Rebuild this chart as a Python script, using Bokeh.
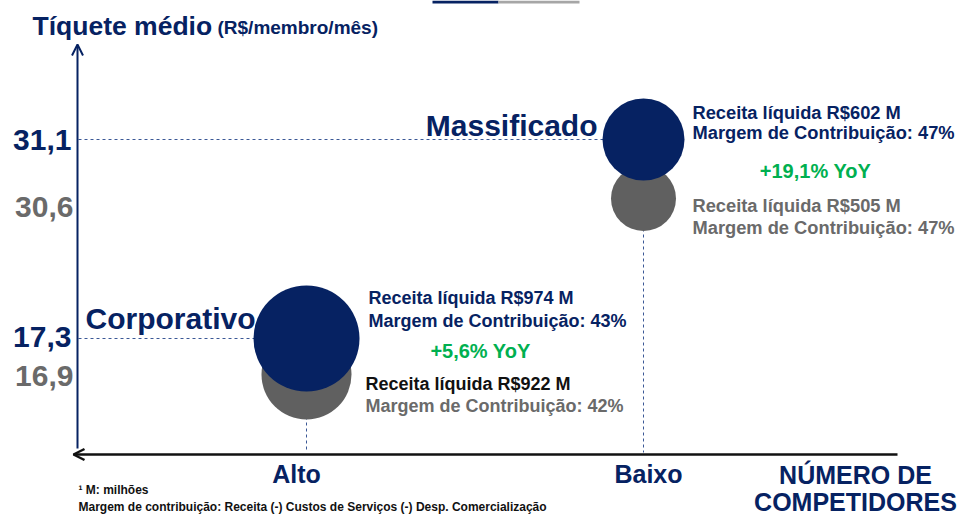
from bokeh.plotting import figure
from bokeh.models import Range1d, Arrow, OpenHead, Label, BoxAnnotation
from bokeh.core.properties import value
from bokeh.embed import file_html
from bokeh.resources import INLINE

# ---------------- data ----------------
segments = ["Massificado", "Corporativo"]
competitors = ["Baixo", "Alto"]          # número de competidores per segment
x_categories = ["Alto", "Baixo"]
ticket_now = [31.1, 17.3]                # tíquete médio (R$/membro/mês) atual
ticket_prev = [30.6, 16.9]               # ano anterior
revenue_now = [602, 974]                 # receita líquida R$ M
revenue_prev = [505, 922]
margin_now = [47, 43]                    # margem de contribuição %
margin_prev = [47, 42]
yoy = ["+19,1%", "+5,6%"]

# ---------------- styles ----------------
NAVY = "#062262"
GRAY_B = "#606060"
GRAY_T = "#6a6a6a"
GREEN = "#00b050"
DASH = "#3b5896"
FNAME = "Liberation Sans"
FONT = value(FNAME)
W, H, M = 959, 515, 0
diam_now = [82, 106]
diam_prev = [65, 90]

def fmt(v):
    return f"{v:.1f}".replace(".", ",")

def lin_range(v1, p1, v2, p2, lo, hi):
    k = (p2 - p1) / (v2 - v1)
    return Range1d(start=v1 + (lo - p1) / k, end=v1 + (hi - p1) / k)

# layout: screen positions (page px) of the schematic scales
cat_rng = lin_range(0, 306, 1, 643, M, M + W)
val_rngs = {
    "mass": lin_range(ticket_now[0], 139, ticket_prev[0], 198, M + H, M),
    "corp": lin_range(ticket_now[1], 338, ticket_prev[1], 374, M + H, M),
}
rng_names = ["mass", "corp"]

def y_at(rng, py):
    return rng.end + (rng.start - rng.end) * (py - M) / H

def x_at(rng, px):
    return rng.start + (rng.end - rng.start) * (px - M) / W

p = figure(width=W, height=H, x_range=Range1d(M, M + W), y_range=Range1d(M + H, M),
           toolbar_location=None, output_backend="svg", min_border=0,
           x_axis_location=None, y_axis_location=None, outline_line_color=None)
p.grid.visible = False
p.extra_x_ranges = {"cat": cat_rng}
p.extra_y_ranges = val_rngs

AXIS_X, AXIS_Y = 77, 454

# slide decoration bar at top
p.add_layout(BoxAnnotation(left=432, right=498, top=0, bottom=3, fill_color=NAVY, fill_alpha=1, line_color=None))
p.add_layout(BoxAnnotation(left=498, right=579, top=0, bottom=3, fill_color="#a6a6a6", fill_alpha=1, line_color=None))

for i, seg in enumerate(segments):
    rn = rng_names[i]
    r = val_rngs[rn]
    ci = x_categories.index(competitors[i])
    # dashed guide lines
    p.segment(x0=[x_at(cat_rng, AXIS_X + 1)], x1=[ci], y0=[ticket_now[i]], y1=[ticket_now[i]],
              x_range_name="cat", y_range_name=rn, line_color=DASH, line_width=1, line_dash="3 3")
    p.segment(x0=[ci], x1=[ci], y0=[ticket_prev[i]], y1=[y_at(r, AXIS_Y - 2)],
              x_range_name="cat", y_range_name=rn, line_color=DASH, line_width=1, line_dash="3 3")
    # bubbles
    p.scatter(x=[ci], y=[ticket_prev[i]], size=diam_prev[i], x_range_name="cat", y_range_name=rn,
              fill_color=GRAY_B, line_color=None)
    p.scatter(x=[ci], y=[ticket_now[i]], size=diam_now[i], x_range_name="cat", y_range_name=rn,
              fill_color=NAVY, line_color=None)
    # y tick labels
    p.text(x=[71], y=[ticket_now[i]], text=[fmt(ticket_now[i])], y_range_name=rn,
           text_font=FONT, text_font_style="bold", text_font_size="30px", text_color=NAVY,
           text_align="right", text_baseline="middle", y_offset=[0 if i == 0 else -2])
    p.text(x=[73], y=[ticket_prev[i]], text=[fmt(ticket_prev[i])], y_range_name=rn,
           text_font=FONT, text_font_style="bold", text_font_size="30px", text_color=GRAY_T,
           text_align="right", text_baseline="middle", y_offset=[8 if i == 0 else 1])

def t(x, y, s, rn, dx, dy, color, size="18px", align="left"):
    p.text(x=[x], y=[y], text=[s], x_range_name="cat", y_range_name=rn,
           x_offset=dx, y_offset=dy, text_font=FONT, text_font_style="bold",
           text_font_size=size, text_color=color, text_align=align, text_baseline="middle")

# Massificado annotations
ci = x_categories.index(competitors[0])
t(ci, ticket_now[0], segments[0], "mass", -46, -14, NAVY, "30px", "right")
t(ci, ticket_now[0], f"Receita líquida R${revenue_now[0]} M", "mass", 49, -27, NAVY, "18.3px")
t(ci, ticket_now[0], f"Margem de Contribuição: {margin_now[0]}%", "mass", 49, -7, NAVY, "18.3px")
t(ci, ticket_now[0], f"{yoy[0]} YoY", "mass", 172, 31, GREEN, "20px", "center")
t(ci, ticket_prev[0], f"Receita líquida R${revenue_prev[0]} M", "mass", 49, 7, GRAY_T, "18.3px")
t(ci, ticket_prev[0], f"Margem de Contribuição: {margin_prev[0]}%", "mass", 49, 29, GRAY_T, "18.3px")

# Corporativo annotations
ci = x_categories.index(competitors[1])
t(ci, ticket_now[1], segments[1], "corp", -51, -20, NAVY, "30px", "right")
t(ci, ticket_now[1], f"Receita líquida R${revenue_now[1]} M", "corp", 62, -41, NAVY)
t(ci, ticket_now[1], f"Margem de Contribuição: {margin_now[1]}%", "corp", 62, -18, NAVY)
t(ci, ticket_now[1], f"{yoy[1]} YoY", "corp", 174, 12, GREEN, "20px", "center")
t(ci, ticket_prev[1], f"Receita líquida R${revenue_prev[1]} M", "corp", 59, 9, "#111111")
t(ci, ticket_prev[1], f"Margem de Contribuição: {margin_prev[1]}%", "corp", 59, 31, GRAY_T)

# x category labels
for j, c in enumerate(x_categories):
    p.text(x=[j], y=[473], text=[c], x_range_name="cat", x_offset=[-10 if j == 0 else 5],
           text_font=FONT, text_font_style="bold", text_font_size="25px", text_color=NAVY,
           text_align="center", text_baseline="middle")

# axes with arrows
p.add_layout(Arrow(end=OpenHead(size=11, line_color=NAVY, line_width=2),
                   x_start=AXIS_X, y_start=448, x_end=AXIS_X, y_end=44,
                   line_color=NAVY, line_width=2))
p.add_layout(Arrow(end=OpenHead(size=11, line_color="#111111", line_width=2.5),
                   x_start=897, y_start=AXIS_Y, x_end=73, y_end=AXIS_Y,
                   line_color="#111111", line_width=2.5))

# titles and notes
def lab(x, y, s, size, color, align="left", base="middle"):
    p.add_layout(Label(x=x, y=y, text=s, text_font=FNAME, text_font_style="bold",
                       text_font_size=size, text_color=color, text_align=align, text_baseline=base))

lab(32, 25, "Tíquete médio", "26.5px", NAVY)
lab(217, 27, "(R$/membro/mês)", "19px", NAVY)
lab(855, 474, "NÚMERO DE", "25px", NAVY, align="center")
lab(855, 501, "COMPETIDORES", "25px", NAVY, align="center")
lab(78, 489, "¹ M: milhões", "12px", "#111111")
lab(78, 506, "Margem de contribuição: Receita (-) Custos de Serviços (-) Desp. Comercialização", "12px", "#111111")

open("out.html", "w").write(file_html(p, INLINE))
